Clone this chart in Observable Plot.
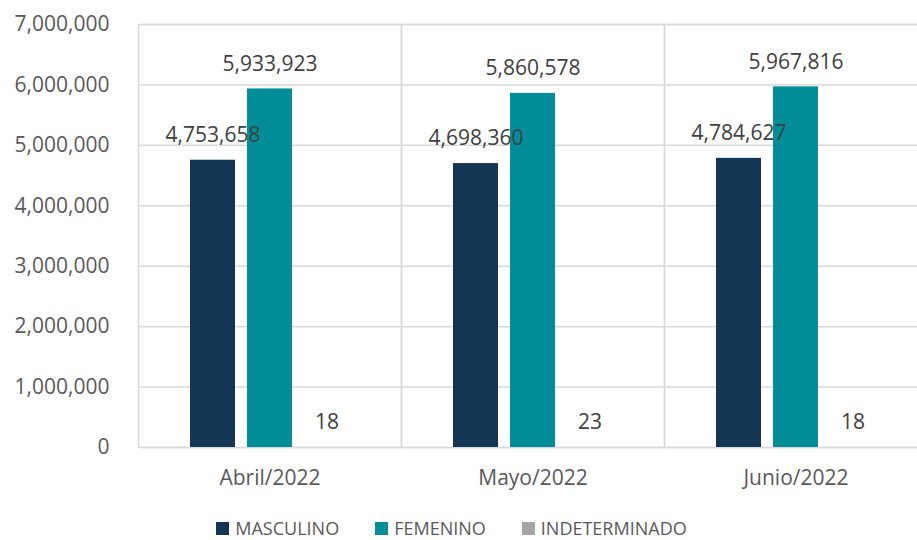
<!DOCTYPE html>
<html>
<head>
<meta charset="utf-8">
<script src="https://cdn.jsdelivr.net/npm/d3@7"></script>
<script src="https://cdn.jsdelivr.net/npm/@observablehq/plot@0.6"></script>
<style>
  body { margin: 0; background: #fff; font-family: "Open Sans", sans-serif; }
  #legend { display: flex; justify-content: center; align-items: center; margin-top: 6px; height: 24px; line-height: 24px; font-size: 18px; color: #595959; padding-right: 14px; }
  #legend .item { display: flex; align-items: center; margin: 0 18px; }
  #legend .sw { width: 13px; height: 13px; margin-right: 6px; }
</style>
</head>
<body>
<div id="chart"></div>
<script>
const months = ["Abril/2022", "Mayo/2022", "Junio/2022"];
const series = ["MASCULINO", "FEMENINO", "INDETERMINADO"];
const colors = ["#133655", "#028E99", "#A5A5A5"];
const masculino = [4753658, 4698360, 4784627];
const femenino = [5933923, 5860578, 5967816];
const indeterminado = [18, 23, 18];
const yTicks = [0, 1000000, 2000000, 3000000, 4000000, 5000000, 6000000, 7000000];

const seriesValues = [masculino, femenino, indeterminado];
const data = [];
months.forEach((m, i) => {
  series.forEach((s, j) => data.push({month: m, series: s, value: seriesValues[j][i]}));
});

const fmt = d3.format(",");

const plot = Plot.plot({
  width: 917,
  height: 510,
  marginLeft: 138,
  marginRight: -10,
  marginTop: 24,
  marginBottom: 63,
  style: {fontFamily: "Open Sans", fontSize: "21px", color: "#595959", background: "#fff"},
  fx: {domain: months, paddingInner: 0, paddingOuter: 0, axis: "bottom", tickSize: 0, tickPadding: 23, label: null},
  x: {domain: series, paddingInner: 0.207, paddingOuter: 0.871, axis: null},
  y: {domain: [0, 7000000], ticks: yTicks, tickFormat: fmt, tickSize: 0, tickPadding: 29, label: null},
  color: {domain: series, range: colors},
  marks: [
    Plot.gridY(yTicks, {stroke: "#d9d9d9", strokeOpacity: 1, strokeWidth: 1.5}),
    Plot.frame({stroke: "#d9d9d9", strokeWidth: 1.5}),
    Plot.barY(data, {fx: "month", x: "series", y: "value", fill: "series"}),
    Plot.text(data, {fx: "month", x: "series", y: "value", text: d => fmt(d.value), dy: -25, lineAnchor: "middle", fill: "#404040", fontSize: 21})
  ]
});
document.getElementById("chart").appendChild(plot);

const legend = document.createElement("div");
legend.id = "legend";
series.forEach((s, i) => {
  const item = document.createElement("div");
  item.className = "item";
  const sw = document.createElement("div");
  sw.className = "sw";
  sw.style.background = colors[i];
  const label = document.createElement("span");
  label.textContent = s;
  item.appendChild(sw);
  item.appendChild(label);
  legend.appendChild(item);
});
document.body.appendChild(legend);
</script>
</body>
</html>
